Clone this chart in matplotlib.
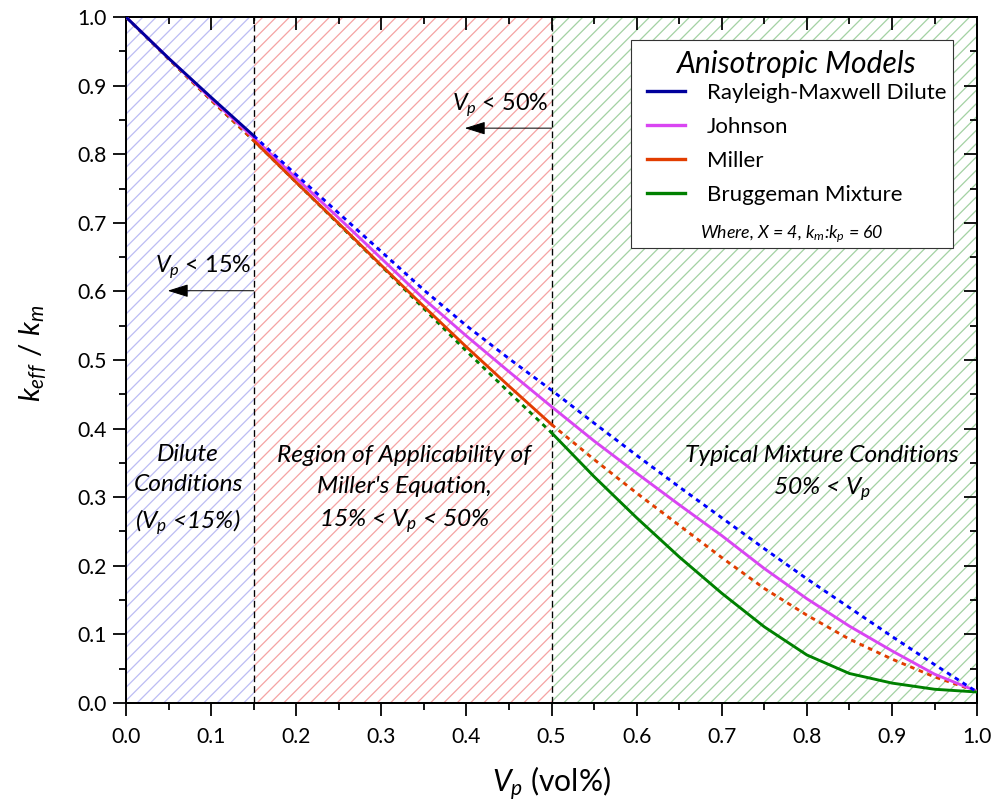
import numpy as np
import matplotlib
matplotlib.use('Agg')
import matplotlib.pyplot as plt
from matplotlib.lines import Line2D
from matplotlib.patches import Rectangle
from matplotlib.ticker import MultipleLocator

# Fonts
plt.rcParams['font.family'] = ['Lato', 'DejaVu Sans']
plt.rcParams['mathtext.fontset'] = 'custom'
plt.rcParams['mathtext.rm'] = 'Lato'
plt.rcParams['mathtext.it'] = 'Lato:italic'
plt.rcParams['hatch.linewidth'] = 1.15

# Data, Vp in 0.05 steps
vp = np.array([0.00, 0.05, 0.10, 0.15, 0.20, 0.25, 0.30, 0.35, 0.40, 0.45, 0.50,
               0.55, 0.60, 0.65, 0.70, 0.75, 0.80, 0.85, 0.90, 0.95, 1.00])
rayleigh = np.array([1.000, 0.940, 0.883, 0.827, 0.770, 0.714, 0.658, 0.602, 0.550, 0.502, 0.456,
                     0.408, 0.361, 0.315, 0.270, 0.225, 0.181, 0.139, 0.097, 0.056, 0.016])
johnson = np.array([1.000, 0.940, 0.881, 0.824, 0.765, 0.707, 0.648, 0.589, 0.535, 0.483, 0.432,
                    0.382, 0.335, 0.289, 0.244, 0.196, 0.152, 0.112, 0.076, 0.042, 0.017])
miller = np.array([1.000, 0.939, 0.879, 0.820, 0.759, 0.699, 0.638, 0.578, 0.519, 0.462, 0.406,
                   0.355, 0.306, 0.259, 0.212, 0.167, 0.128, 0.093, 0.064, 0.038, 0.017])
bruggeman = np.array([1.000, 0.939, 0.879, 0.820, 0.759, 0.698, 0.637, 0.575, 0.513, 0.453, 0.394,
                      0.330, 0.270, 0.213, 0.160, 0.111, 0.070, 0.043, 0.029, 0.020, 0.016])

labels = ['Rayleigh-Maxwell Dilute', 'Johnson', 'Miller', 'Bruggeman Mixture']
colors = ['#00009C', '#D945F2', '#E23D00', '#008000']
dot_blue = '#0000FF'
lim_dilute = 0.15
lim_miller = 0.50

fig = plt.figure(figsize=(996 / 80, 811 / 80), dpi=80)
ax = fig.add_axes([0.1265, 0.1332, 0.8545, 0.8458])

# shaded regions
ax.axvspan(0, lim_dilute, facecolor='white', edgecolor='#bdbdf3', hatch='//', lw=0, zorder=0)
ax.axvspan(lim_dilute, lim_miller, facecolor='white', edgecolor='#f5a4a4', hatch='//', lw=0, zorder=0)
ax.axvspan(lim_miller, 1.0, facecolor='white', edgecolor='#a4d2a4', hatch='//', lw=0, zorder=0)
for xv in [lim_dilute, lim_miller]:
    ax.axvline(xv, color='black', ls=(0, (5, 3)), lw=1.2, zorder=1)

dil = vp <= lim_dilute + 1e-9
pst = vp >= lim_dilute - 1e-9
mid = (vp >= lim_dilute - 1e-9) & (vp <= lim_miller + 1e-9)
low = vp <= lim_miller + 1e-9
high = vp >= lim_miller - 1e-9
lw = 2.6
dash = (0, (1.6, 1.6))

ax.plot(vp[low], bruggeman[low], color=colors[3], lw=lw, ls=dash, zorder=2)
ax.plot(vp[dil], miller[dil], color=colors[2], lw=lw, ls=dash, zorder=3)
ax.plot(vp[high], miller[high], color=colors[2], lw=lw, ls=dash, zorder=3)
ax.plot(vp, johnson, color=colors[1], lw=lw, zorder=3)
ax.plot(vp[mid], miller[mid], color=colors[2], lw=lw, zorder=4)
ax.plot(vp[high], bruggeman[high], color=colors[3], lw=lw, zorder=4)
ax.plot(vp[pst], rayleigh[pst], color=dot_blue, lw=lw, ls=dash, zorder=4)
ax.plot(vp[dil], rayleigh[dil], color=colors[0], lw=lw, zorder=5)

# arrows
ax.annotate('', xy=(0.049, 0.601), xytext=(lim_dilute, 0.601),
            arrowprops=dict(arrowstyle='-|>,head_length=0.8,head_width=0.25',
                            color='black', lw=0.9, mutation_scale=20, shrinkA=0, shrinkB=0))
ax.text(0.091, 0.636, r'$V_p$ < 15%', fontsize=21, ha='center', va='center')
ax.annotate('', xy=(0.398, 0.838), xytext=(lim_miller, 0.838),
            arrowprops=dict(arrowstyle='-|>,head_length=0.8,head_width=0.25',
                            color='black', lw=0.9, mutation_scale=20, shrinkA=0, shrinkB=0))
ax.text(0.44, 0.871, r'$V_p$ < 50%', fontsize=21, ha='center', va='center')

# region notes
ax.text(0.073, 0.31, 'Dilute\nConditions\n' + r'($V_p$ <15%)', fontsize=22, style='italic',
        ha='center', va='center', linespacing=1.55)
ax.text(0.327, 0.31, "Region of Applicability of\nMiller's Equation,\n" + r'15% < $V_p$ < 50%',
        fontsize=22, style='italic', ha='center', va='center', linespacing=1.55)
ax.text(0.8175, 0.334, 'Typical Mixture Conditions\n' + r'50% < $V_p$', fontsize=22,
        style='italic', ha='center', va='center', linespacing=1.5)

# legend box
box = Rectangle((0.593, 0.663), 0.379, 0.303, transform=ax.transAxes, facecolor='white',
                edgecolor='#333333', lw=1.0, zorder=8)
ax.add_patch(box)
handles = [Line2D([], [], color=c, lw=3.0) for c in colors]
leg = ax.legend(handles, labels, loc='upper left', bbox_to_anchor=(0.5965, 0.972), frameon=False,
                fontsize=20, title='Anisotropic Models', title_fontsize=27,
                handlelength=1.7, handletextpad=1.0, labelspacing=0.63, borderpad=0.1)
leg.get_title().set_style('italic')
leg._legend_box.sep = 5
leg.set_zorder(9)
ax.text(0.7825, 0.684, r'Where, $X$ = 4, $k_m$:$k_p$ = 60', transform=ax.transAxes,
        fontsize=16, style='italic', ha='center', va='center', zorder=10)

# axes
ax.set_xlim(0, 1)
ax.set_ylim(0, 1)
ax.set_xticks(np.arange(0, 1.01, 0.1))
ax.set_yticks(np.arange(0, 1.01, 0.1))
ax.xaxis.set_minor_locator(MultipleLocator(0.05))
ax.yaxis.set_minor_locator(MultipleLocator(0.05))
ax.set_xticklabels([f'{t:.1f}' for t in np.arange(0, 1.01, 0.1)])
ax.set_yticklabels([f'{t:.1f}' for t in np.arange(0, 1.01, 0.1)])
ax.tick_params(which='major', direction='out', length=11.5, width=1.6, labelsize=19, pad=6)
ax.tick_params(which='minor', direction='out', length=6, width=1.6)
ax.tick_params(axis='x', which='major', pad=10)
for s in ax.spines.values():
    s.set_linewidth(1.8)

sx = ax.secondary_xaxis('top')
sx.set_xticks(np.arange(0, 1.01, 0.1))
sx.xaxis.set_minor_locator(MultipleLocator(0.05))
sx.tick_params(which='major', direction='in', length=11.5, width=1.6, labeltop=False)
sx.tick_params(which='minor', direction='in', length=6, width=1.6)
sy = ax.secondary_yaxis('right')
sy.set_yticks(np.arange(0, 1.01, 0.1))
sy.yaxis.set_minor_locator(MultipleLocator(0.05))
sy.tick_params(which='major', direction='in', length=11.5, width=1.6, labelright=False)
sy.tick_params(which='minor', direction='in', length=6, width=1.6)

ax.set_xlabel(r'$V_p$ (vol%)', fontsize=27)
ax.set_ylabel(r'$k_{eff}$ / $k_m$', fontsize=26.5)
ax.xaxis.set_label_coords(0.5, -0.09)
ax.yaxis.set_label_coords(-0.09, 0.51)

fig.savefig('out.png', dpi=80)
